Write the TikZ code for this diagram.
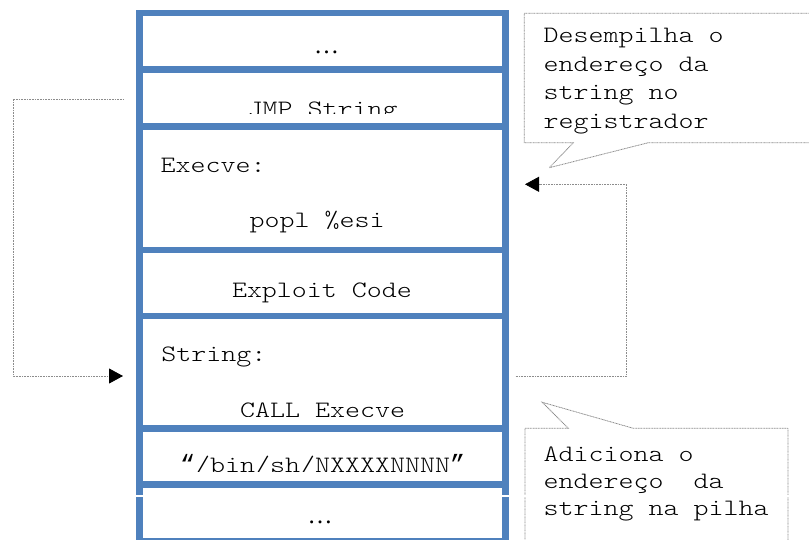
\documentclass[tikz,border=0pt]{standalone}
\usepackage{fontspec}
\newfontfamily\codefont[FakeStretch=1.2157]{Latin Modern Mono Light}
\newfontfamily\quotefont{Liberation Mono}
\newfontfamily\dotsfont{Liberation Serif}
\usetikzlibrary{arrows.meta}
\definecolor{stackblue}{RGB}{79,129,189}
\definecolor{notegray}{RGB}{140,140,140}
\newcommand{\curlyq}[1]{{\quotefont\fontsize{25}{28}\selectfont #1}}
\begin{document}
\begin{tikzpicture}[x=1pt,y=-1pt,
  stackbox/.style={draw=stackblue, line width=6.5pt, minimum width=366pt,
                   inner sep=0pt, outer sep=0pt},
  code/.style={font=\codefont\fontsize{23.5}{28}\selectfont, inner sep=0pt,
               anchor=base west, text=black},
  ell/.style={font=\dotsfont\fontsize{25}{30}\selectfont, inner sep=0pt,
              anchor=base west, text=black},
  note/.style={draw=notegray, line width=0.8pt, dash pattern=on 1pt off 0.6pt,
               fill=white},
  link/.style={draw=notegray, line width=0.8pt, dash pattern=on 1pt off 0.6pt,
               -{Triangle[length=14pt,width=15pt,color=black,fill=black]}},
]
\useasboundingbox (0,0) rectangle (809,539);
\fill[white] (0,0) rectangle (809,539);

% stack slots, top to bottom
\node[stackbox, minimum height=56.5pt] (slottop)  at (322.5,41.25)  {};
\node[stackbox, minimum height=57pt]   (slotjmp)  at (322.5,98)     {};
\node[stackbox, minimum height=123.5pt](slotexec) at (322.5,188.25) {};
\node[stackbox, minimum height=66pt]   (slotcode) at (322.5,283)    {};
\node[stackbox, minimum height=112.5pt](slotstr)  at (322.5,372.25) {};
\node[stackbox, minimum height=56pt]   (slotbin)  at (322.5,456.5)  {};
\node[stackbox, minimum height=57pt]   (slotbot)  at (322.5,513)    {};

% slot contents
\node[ell]  (dotstop) at (314,53)     {…};
\begin{scope}
  \clip (145,75) rectangle (500,113);
  \node[code] (jmp) at (247.5,116) {JMP String};
\end{scope}
\node[code] (execlbl) at (160.5,172.7) {Execve:};
\node[code] (popl)    at (249.5,227.5) {popl \%esi};
\node[code] (exploit) at (231.8,297.5) {Exploit Code};
\node[code] (strlbl)  at (161.2,361.5) {String:};
\begin{scope}
  \clip (145,380) rectangle (500,416.7);
  \node[code] (call) at (240,417.6) {CALL Execve};
\end{scope}
\begin{scope}
  \clip (145,435) rectangle (500,471.7);
  \node[code] (binsh) at (180,472.5) {\curlyq{“}/bin/sh/NXXXXNNNN\curlyq{”}};
\end{scope}
\node[ell]  (dotsbot) at (307.5,523)  {…};

% seam across the lower part of the stack
\fill[white] (130,494.5) rectangle (515,497);

% jumps between the labels
\coordinate (jmpfrom) at (124,99.3);
\coordinate (strin)   at (123,376);
\coordinate (callfrom) at (515.7,376);
\coordinate (popin)   at (525,184.3);
\draw[link] (jmpfrom) -- (13,99.3) |- (strin);
\draw[link] (callfrom) -- (626.7,376) |- (popin);

% callouts
\draw[note] (524.3,13.3) -- (812,13.3) -- (812,142.7) -- (648.3,142.7)
  -- (549.3,167.7) -- (573.3,142.7) -- (524.3,142.7) -- cycle;
\node[code] (pop1) at (543.5,42.6)  {Desempilha o};
\node[code] (pop2) at (543.5,71.2)  {endereço da};
\node[code] (pop3) at (543.5,99.8)  {string no};
\node[code] (pop4) at (543.5,128.4) {registrador};

\draw[note] (525,428.3) -- (568.3,428.3) -- (542.3,402.3) -- (633.3,428.3)
  -- (788,428.3) -- (788,545) -- (525,545) -- cycle;
\node[code] (push1) at (543.5,461) {Adiciona o};
\node[code] (push2) at (543.5,488) {endereço\ \ da};
\node[code] (push3) at (543.5,515) {string na pilha};
\fill[white] (522,494.5) rectangle (528,497);
\fill[white] (785,494.5) rectangle (791,497);
\end{tikzpicture}
\end{document}
